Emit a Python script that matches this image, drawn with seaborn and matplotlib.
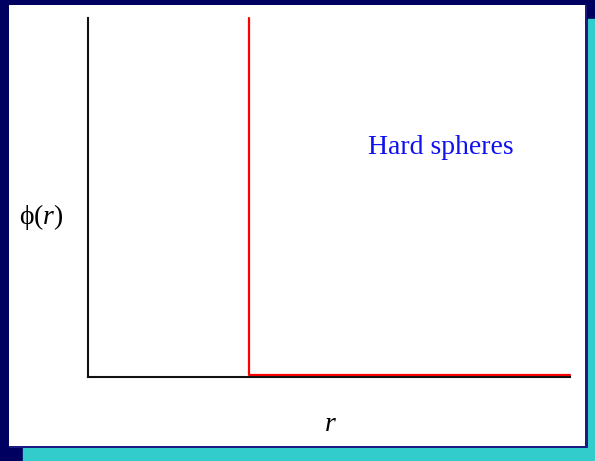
import matplotlib
matplotlib.use("Agg")
import matplotlib.pyplot as plt
import numpy as np
import pandas as pd
import seaborn as sns
from matplotlib.patches import Rectangle

# hard-sphere pair potential: infinite wall at r = sigma, zero beyond
r_values = [1.0, 1.0, 3.0]
phi_values = [1.0, 0.006, 0.006]
label_text = "Hard spheres"
x_label = "r"
y_label = "ϕ($r$)"

navy = "#000060"
cyan = "#33CCCC"

sns.set_theme(style="white")
plt.rcParams["font.family"] = ["Liberation Serif", "DejaVu Serif"]
plt.rcParams["mathtext.fontset"] = "custom"
plt.rcParams["mathtext.rm"] = "Liberation Serif"
plt.rcParams["mathtext.it"] = "Liberation Serif:italic"

W, H = 595, 461
fig = plt.figure(figsize=(W / 100, H / 100), dpi=100, facecolor=navy)

# slide panel with cyan drop shadow
fig.patches.append(Rectangle((23 / W, 0), (W - 23) / W, (H - 448) / H,
                             transform=fig.transFigure, color=cyan, zorder=0))
fig.patches.append(Rectangle((588 / W, 0), 7 / W, (H - 19) / H,
                             transform=fig.transFigure, color=cyan, zorder=0))
fig.patches.append(Rectangle((9 / W, (H - 448) / H), (587 - 9) / W, (448 - 5) / H,
                             transform=fig.transFigure, facecolor="#1a1a80",
                             edgecolor="none", zorder=0.5))
fig.patches.append(Rectangle((9 / W, (H - 446) / H), (585 - 9) / W, (446 - 5) / H,
                             transform=fig.transFigure, facecolor="white",
                             edgecolor="none", zorder=1))

ax = fig.add_axes([88 / W, (H - 377) / H, (570 - 88) / W, (377 - 18) / H])
ax.set_zorder(3)
ax.set_facecolor("none")
df = pd.DataFrame({"r": r_values, "phi": phi_values})
sns.lineplot(data=df, x="r", y="phi", sort=False, estimator=None,
             color="#FF0000", linewidth=1.6, ax=ax, clip_on=False)
ax.set_xlim(0, 3)
ax.set_ylim(0, 1)
ax.set_xticks([])
ax.set_yticks([])
ax.set_xlabel("")
ax.set_ylabel("")
for side in ["top", "right"]:
    ax.spines[side].set_visible(False)
for side in ["left", "bottom"]:
    ax.spines[side].set_color("#111111")
    ax.spines[side].set_linewidth(1.5)

fig.text(441 / W, 1 - 147 / H, label_text, color="#1010F0", fontsize=20,
         ha="center", va="center", zorder=4)
fig.text(41 / W, 1 - 217 / H, y_label, color="black", fontsize=20,
         ha="center", va="center", zorder=4)
fig.text(330 / W, 1 - 424 / H, "$" + x_label + "$", color="black", fontsize=20,
         ha="center", va="center", zorder=4)

fig.savefig("out.png", dpi=100, facecolor=navy)
